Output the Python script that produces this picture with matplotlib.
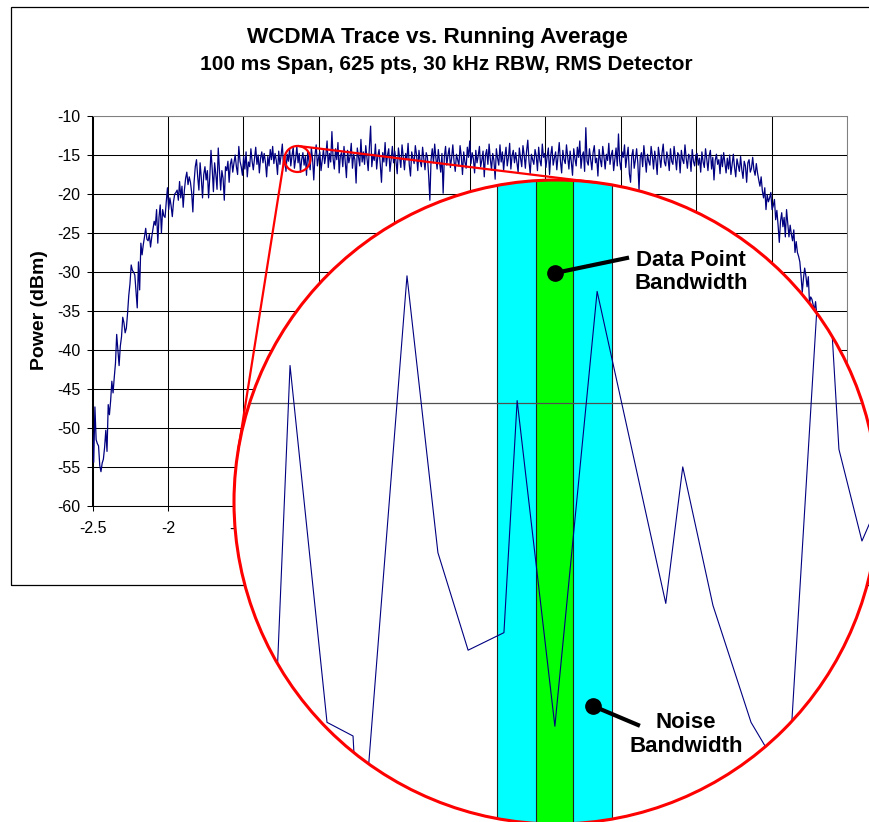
import numpy as np
import matplotlib
matplotlib.use("Agg")
import matplotlib.pyplot as plt
from matplotlib.patches import Circle, Ellipse, Rectangle
from matplotlib.lines import Line2D
from matplotlib.ticker import FuncFormatter, MultipleLocator

plt.rcParams["font.family"] = ["Liberation Sans", "DejaVu Sans"]
plt.rcParams["axes.unicode_minus"] = False

W, H = 870, 822

# 625-point trace, dBm (25 pts per row)
power_dbm = np.array([
    -50.5, -54.4, -47.3, -51.5, -52.0, -52.3, -54.8, -55.6, -54.5, -54.0, -52.5, -50.3, -53.0, -47.0, -48.3, -46.5, -44.0, -45.5, -43.5, -41.7, -38.0, -40.0, -42.0, -39.5, -38.3,
    -35.8, -36.5, -37.8, -37.2, -35.3, -33.0, -31.5, -29.1, -29.8, -30.0, -30.4, -32.5, -34.6, -28.7, -32.3, -26.3, -27.8, -26.5, -25.5, -24.4, -25.8, -26.0, -25.2, -26.8, -25.5,
    -24.5, -23.5, -24.0, -22.0, -26.3, -23.0, -21.4, -25.0, -22.0, -22.8, -23.0, -21.0, -19.2, -22.0, -20.5, -21.5, -22.9, -21.0, -20.0, -19.8, -19.5, -20.8, -18.4, -20.5, -19.0,
    -21.7, -19.5, -18.0, -17.2, -18.8, -17.8, -18.5, -19.8, -22.3, -18.5, -16.5, -15.6, -17.8, -19.5, -16.0, -18.0, -20.5, -17.5, -16.5, -18.2, -17.0, -20.5, -17.8, -14.4, -16.8,
    -19.7, -16.0, -17.5, -19.4, -14.1, -17.0, -19.5, -17.0, -18.0, -20.8, -16.5, -17.0, -15.8, -18.5, -16.2, -15.5, -17.2, -16.0, -15.0, -16.5, -17.5, -13.9, -15.8, -16.5, -17.6,
    -15.2, -16.8, -14.6, -17.8, -15.9, -16.5, -14.2, -15.8, -16.9, -15.4, -14.0, -16.2, -15.0, -17.3, -15.4, -14.6, -16.0, -14.8, -15.9, -17.8, -15.2, -16.4, -14.3, -15.6, -13.9,
    -16.1, -14.8, -15.7, -17.5, -14.5, -16.2, -15.0, -13.6, -16.6, -15.3, -17.1, -14.9, -15.8, -14.2, -16.4, -15.1, -14.0, -16.7, -15.5, -13.9, -16.0, -14.8, -17.2, -15.6, -14.7,
    -16.3, -15.2, -17.6, -14.5, -15.8, -16.9, -14.1, -15.5, -18.2, -15.0, -13.7, -16.4, -15.3, -14.6, -17.0, -15.7, -14.3, -16.1, -15.0, -13.2, -16.6, -14.8, -15.9, -12.0, -15.5,
    -16.8, -14.2, -15.6, -13.4, -17.3, -15.1, -14.7, -16.5, -13.9, -15.8, -17.9, -14.4, -16.0, -15.2, -13.5, -16.7, -14.9, -15.6, -18.6, -14.1, -15.3, -16.4, -13.0, -15.9, -14.6,
    -16.2, -13.8, -15.4, -17.0, -14.0, -11.3, -16.5, -14.9, -15.7, -13.6, -16.8, -15.1, -14.3, -16.2, -18.5, -14.7, -15.9, -13.4, -16.4, -15.0, -14.2, -17.1, -15.6, -13.9, -16.0,
    -14.5, -15.8, -17.4, -14.1, -15.3, -16.6, -13.7, -15.2, -16.9, -14.8, -15.6, -13.5, -16.3, -17.7, -14.6, -15.4, -16.1, -13.8, -15.0, -17.0, -14.4, -15.8, -16.5, -14.0, -15.5,
    -16.9, -14.7, -15.3, -17.6, -20.8, -15.6, -14.2, -16.0, -13.6, -15.4, -16.8, -14.3, -15.9, -17.2, -14.8, -19.9, -15.2, -13.9, -16.3, -15.0, -14.1, -16.6, -15.4, -13.7, -15.8,
    -17.1, -14.9, -15.6, -16.4, -13.8, -15.2, -17.5, -14.6, -15.9, -16.7, -14.0, -15.3, -13.2, -16.1, -14.7, -15.5, -17.3, -14.4, -16.0, -15.1, -13.9, -16.5, -15.7, -14.5, -17.8,
    -15.0, -14.3, -16.2, -13.6, -15.5, -16.9, -14.8, -15.7, -18.1, -14.2, -15.4, -16.3, -13.7, -15.9, -14.6, -17.0, -15.2, -14.0, -16.4, -15.3, -13.5, -16.8, -15.1, -14.4, -16.0,
    -14.7, -15.9, -17.2, -14.1, -15.4, -16.5, -13.8, -15.0, -16.7, -14.5, -13.1, -15.8, -17.4, -14.9, -15.6, -16.2, -14.3, -15.1, -17.0, -14.0, -15.7, -16.4, -13.6, -15.3, -14.8,
    -16.6, -15.2, -14.1, -17.5, -15.0, -13.9, -16.3, -15.4, -14.6, -16.9, -15.1, -13.4, -15.8, -17.3, -14.4, -15.6, -16.1, -13.7, -15.2, -16.8, -14.5, -15.9, -17.6, -14.2, -15.5,
    -16.4, -14.0, -15.3, -13.2, -16.7, -15.1, -14.6, -17.1, -11.5, -15.8, -16.3, -14.2, -15.5, -16.9, -14.7, -13.8, -16.0, -15.4, -17.7, -14.3, -15.6, -16.5, -13.9, -15.2, -16.8,
    -14.9, -15.7, -13.5, -16.2, -15.0, -14.4, -17.0, -15.5, -14.1, -16.4, -12.3, -15.8, -16.9, -14.6, -15.3, -13.7, -16.6, -15.2, -14.0, -17.4, -18.5, -15.1, -14.3, -16.7, -15.6,
    -14.2, -16.0, -19.5, -15.3, -14.7, -16.5, -13.8, -15.4, -17.2, -14.9, -15.8, -16.3, -13.9, -15.1, -16.8, -14.5, -15.7, -17.5, -14.0, -15.2, -16.6, -14.8, -13.6, -15.9, -16.4,
    -14.6, -15.5, -17.0, -14.2, -15.8, -16.2, -13.9, -15.3, -16.9, -14.7, -15.0, -17.3, -14.4, -15.6, -16.1, -13.7, -15.4, -16.7, -14.9, -15.2, -17.1, -14.3, -15.8, -16.4, -15.0,
    -14.8, -16.3, -15.4, -17.2, -14.6, -15.9, -16.6, -14.2, -15.5, -17.0, -15.1, -14.4, -16.8, -15.3, -18.2, -15.7, -14.9, -16.2, -15.6, -17.4, -15.0, -16.5, -14.7, -16.0, -17.3,
    -15.4, -16.8, -15.0, -17.5, -16.2, -14.9, -16.6, -17.8, -15.5, -16.3, -17.1, -15.2, -16.9, -18.0, -15.8, -16.4, -18.5, -16.0, -15.6, -17.2, -16.7, -15.3, -16.9, -17.6, -16.1,
    -17.3, -18.2, -19.0, -17.8, -19.6, -20.5, -19.2, -22.0, -20.1, -21.0, -20.5, -19.8, -22.0, -21.5, -20.7, -23.3, -22.1, -24.0, -26.2, -23.5, -22.4, -24.2, -23.0, -25.5, -22.0,
    -23.8, -25.5, -24.0, -25.2, -26.0, -24.6, -27.5, -26.1, -27.5, -28.0, -28.7, -30.5, -32.6, -30.8, -29.5, -30.5, -31.9, -30.6, -34.0, -33.2, -33.5, -34.2, -34.9, -33.8, -35.5,
    -36.2, -38.0, -37.4, -39.5, -41.0, -40.2, -42.5, -43.8, -42.6, -44.9, -46.0, -45.2, -47.5, -48.3, -47.1, -49.6, -51.0, -50.2, -52.4, -51.5, -53.3, -54.0, -52.8, -54.6, -53.5,
])
freq_mhz = np.linspace(-2.5, 2.5, len(power_dbm))

# magnified piece of the trace around the small circle
zoom_freq = [-1.2172, -1.2125, -1.2027, -1.1958, -1.1939, -1.1815, -1.1733, -1.1653,
             -1.1558, -1.1523, -1.1423, -1.1311, -1.1129, -1.1084, -1.1004, -1.0903,
             -1.0805, -1.0710, -1.0670, -1.0609, -1.0562]
zoom_power = [-16.99, -14.81, -16.64, -16.71, -17.41, -14.35, -15.77, -16.27,
              -16.18, -14.99, -16.66, -14.43, -16.03, -15.33, -16.04, -16.64,
              -16.96, -13.93, -15.24, -15.71, -15.50]

ZOOM_CENTER = (-1.142, -15.51)
ZOOM_FACTOR = 25
noise_bw = (-1.1576, -1.1272)
point_bw = (-1.1473, -1.1375)


def fx(x):
    return x / W


def fy(y):
    return 1 - y / H


fig = plt.figure(figsize=(W / 100, H / 100), dpi=100)

# chart area frame
fig.add_artist(Rectangle((fx(11), fy(585)), (875 - 11) / W, (585 - 7) / H,
                         transform=fig.transFigure, fill=False,
                         edgecolor="black", lw=0.9, zorder=0))

# ── main plot ──
ax = fig.add_axes([fx(92.5), fy(506), (847 - 92.5) / W, (506 - 116) / H])
ax.plot(freq_mhz, power_dbm, color="#000080", lw=0.9)
ax.set_xlim(-2.5, 2.5)
ax.set_ylim(-60, -10)
ax.xaxis.set_major_locator(MultipleLocator(0.5))
ax.yaxis.set_major_locator(MultipleLocator(5))
ax.xaxis.set_major_formatter(FuncFormatter(lambda v, _: f"{v:g}" if abs(v) > 1e-9 else "0"))
ax.yaxis.set_major_formatter(FuncFormatter(lambda v, _: f"{v:g}"))
ax.grid(True, color="black", lw=0.75)
ax.set_axisbelow(True)
ax.tick_params(direction="out", length=3.5, width=0.75, labelsize=11.5)
ax.tick_params(axis="x", pad=7)
ax.tick_params(axis="y", pad=5)
for side in ("top", "right"):
    ax.spines[side].set_color("#808080")
    ax.spines[side].set_linewidth(0.75)
for side in ("left", "bottom"):
    ax.spines[side].set_linewidth(0.75)

fig.text(fx(437), fy(38), "WCDMA Trace vs. Running Average", ha="center", va="center",
         fontsize=16.2, fontweight="bold")
fig.text(fx(446), fy(64), "100 ms Span, 625 pts, 30 kHz RBW, RMS Detector", ha="center",
         va="center", fontsize=15, fontweight="bold")
fig.text(fx(40), fy(310), "Power (dBm)", rotation=90, ha="center", va="center",
         fontsize=14, fontweight="bold")

# ── magnifier ──
px_per_mhz = (847 - 92.5) / 5.0
px_per_db = (506 - 116) / 50.0
R = 322
cx, cy = 556, 502
ax_zoom = fig.add_axes([fx(cx - R), fy(cy + R), 2 * R / W, 2 * R / H])
ax_zoom.set_zorder(2)
ax_zoom.axis("off")
hw = R / (px_per_mhz * ZOOM_FACTOR)
hh = R / (px_per_db * ZOOM_FACTOR)
ax_zoom.set_xlim(ZOOM_CENTER[0] - hw, ZOOM_CENTER[0] + hw)
ax_zoom.set_ylim(ZOOM_CENTER[1] - hh, ZOOM_CENTER[1] + hh)

lens = Circle((0.5, 0.5), 0.5, transform=ax_zoom.transAxes,
              facecolor="white", edgecolor="none", zorder=0)
ax_zoom.add_patch(lens)
inner = [
    ax_zoom.axvspan(*noise_bw, facecolor="#00FFFF", edgecolor="#202020", lw=0.8, zorder=1),
    ax_zoom.axvspan(*point_bw, facecolor="#00FF00", edgecolor="#202020", lw=0.8, zorder=2),
    ax_zoom.axhline(-15, color="#505050", lw=0.9, zorder=3),
]
inner += ax_zoom.plot(zoom_freq, zoom_power, color="#000080", lw=0.8, zorder=4)
for art in inner:
    art.set_clip_path(lens)
ax_zoom.add_patch(Circle((0.5, 0.5), 0.5, transform=ax_zoom.transAxes, fill=False,
                         edgecolor="red", lw=2.2, zorder=5, clip_on=False))

# small circle on the trace and the two tangent lines to the lens
to_fig = fig.transFigure.inverted()
c1 = ax.transData.transform(ZOOM_CENTER)
r1 = 13.0
c2 = ax_zoom.transAxes.transform((0.5, 0.5))
r2 = float(R)
c1f = to_fig.transform(c1)
fig.add_artist(Ellipse(c1f, 2 * r1 / W, 2 * r1 / H, transform=fig.transFigure,
                       fill=False, edgecolor="red", lw=1.6, zorder=4))
d = c2 - c1
dist = np.hypot(*d)
dhat = d / dist
perp = np.array([-dhat[1], dhat[0]])
cos_t = -(r2 - r1) / dist
sin_t = np.sqrt(1 - cos_t ** 2)
for s in (1, -1):
    u = dhat * cos_t + s * perp * sin_t
    p1 = to_fig.transform(c1 + r1 * u)
    p2 = to_fig.transform(c2 + r2 * u)
    fig.add_artist(Line2D([p1[0], p2[0]], [p1[1], p2[1]], transform=fig.transFigure,
                          color="red", lw=1.6, zorder=4))

# callouts
for dot, end in [((555, 273), (627, 258)), ((593, 706), (638, 725))]:
    fig.add_artist(Line2D([fx(dot[0]), fx(end[0])], [fy(dot[1]), fy(end[1])],
                          transform=fig.transFigure, color="black", lw=3, zorder=10))
    fig.add_artist(Line2D([fx(dot[0])], [fy(dot[1])], transform=fig.transFigure,
                          marker="o", ms=11, color="black", zorder=10))
fig.text(fx(691), fy(272), "Data Point\nBandwidth", ha="center", va="center",
         fontsize=16, fontweight="bold", linespacing=1.15, zorder=10)
fig.text(fx(686), fy(734.5), "Noise\nBandwidth", ha="center", va="center",
         fontsize=16, fontweight="bold", linespacing=1.15, zorder=10)

fig.savefig("out.png", dpi=100)
